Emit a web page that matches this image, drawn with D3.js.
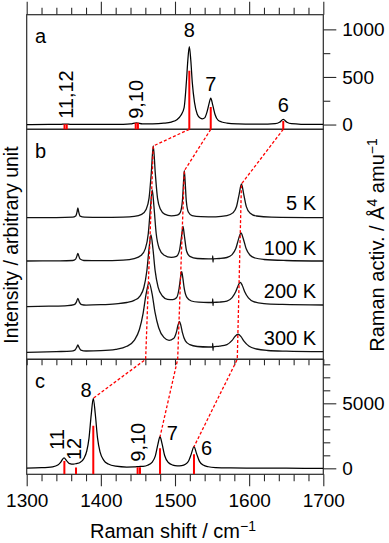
<!DOCTYPE html>
<html><head><meta charset="utf-8">
<script src="https://cdn.jsdelivr.net/npm/d3@7"></script>
<style>
body{margin:0;background:#fff}
text{font-family:"Liberation Sans",Arial,Helvetica,sans-serif;fill:#000}
</style>
</head><body>
<svg id="chart" width="389" height="543" xmlns="http://www.w3.org/2000/svg"></svg>
<script>
// ---------------- data ----------------
const xTickLabels = [1300, 1400, 1500, 1600, 1700];
const aTickLabels = [0, 500, 1000];
const aMinorTicks = [250, 750];
const cTickLabels = [0, 5000];
const cMinorTicks = [1000, 2000, 3000, 4000, 6000, 7000, 8000];

// panel a: calculated Raman activities (sticks) and broadened spectrum
const sticksAPos = [1351, 1354, 1447, 1450, 1519.3, 1548.2, 1646];
const sticksAVal = [4, 4, 18, 18, 564, 185, 38];
const curveA = [[1300,0.3],[1330,0.6],[1345,1.5],[1352.5,5.5],[1360,1.5],[1380,0.9],[1410,1.5],[1430,2.7],[1440,5.8],[1448,18],[1456,7.2],[1470,7.5],[1485,13.8],[1495,26.3],[1503,53.8],[1508,98],[1512.3,179],[1515.3,441],[1517.3,674],[1519.3,819],[1521.3,675],[1523.3,443],[1526.3,232],[1530,108],[1534,68],[1537,60],[1540,70],[1543,128],[1546,222],[1548.2,277],[1551,201],[1554,106],[1558,46],[1563,27],[1570,15.5],[1585,7.2],[1605,4.1],[1625,4.1],[1635,8.6],[1641,23.7],[1646,53],[1651,23.6],[1657,8.4],[1670,2.9],[1700,1.3]];

// panel b: measured spectra (intensity above each trace's baseline, arbitrary unit)
const temps = ["5 K", "100 K", "200 K", "300 K"];
const tempOffsets = [141.6, 98.3, 54.3, 7.3];
const spec5K = [[1300,0],[1340,0.1],[1362,0.5],[1366,1.6],[1368,6.2],[1369,9.8],[1370,6.2],[1372,1.6],[1378,0.5],[1400,0.3],[1430,0.6],[1445,1.3],[1455,3.3],[1461,8.3],[1465,19.5],[1468,44.5],[1470.7,71.7],[1473.4,44.6],[1476.4,19.6],[1480.4,8.4],[1486,3.6],[1495,1.9],[1503,2.5],[1507,5.1],[1510,16.9],[1511.5,35.8],[1512.6,47],[1513.7,35.8],[1515.2,16.9],[1518,5.7],[1523,2.1],[1535,1.1],[1555,0.9],[1570,2],[1578,4.8],[1583,11.2],[1586.5,23.4],[1589.6,33.7],[1592.7,23.4],[1596.2,11.1],[1601,4.8],[1610,1.7],[1630,0.5],[1700,0]];
const spec100K = [[1300,0],[1345,0.1],[1362,0.5],[1366,1.9],[1368,5.6],[1369,7.7],[1370,5.6],[1372,1.9],[1377,0.5],[1400,0.3],[1430,0.9],[1445,2.4],[1454,5.4],[1460,12.4],[1464,27.5],[1467,54.5],[1469.3,71],[1471.6,54.5],[1474.6,27.8],[1478.6,12.8],[1485,6],[1495,3.6],[1502,4.7],[1506,10.3],[1509,25.5],[1510.8,34.5],[1512.6,25.5],[1515.6,10],[1520,4.6],[1530,2.5],[1545,2.2],[1550.6,2.2],[1550.9,5.2],[1551.3,-1],[1551.6,2.2],[1560,2.5],[1570,3.5],[1577,6.4],[1582,12.5],[1586,22.6],[1589,28],[1592,22.5],[1596,12.2],[1601,6],[1608,3],[1620,1.5],[1650,0.5],[1700,0]];
const spec200K = [[1300,-1.7],[1330,-1.2],[1355,-0.6],[1364,0.4],[1367,2.9],[1369,6.7],[1371,2.9],[1374,0.4],[1380,-0.1],[1400,0.3],[1420,1.2],[1435,2.5],[1445,4.6],[1453,9.2],[1458,17.5],[1462,34],[1465,56.3],[1467.6,70],[1470.2,56.5],[1473.2,34.3],[1477.2,17.8],[1483,9],[1490,5.6],[1497,5.3],[1502,7.2],[1505.5,16.5],[1507.5,27.5],[1509,33.3],[1510.5,27.3],[1512.5,16.3],[1516,7.6],[1522,4],[1532,2.8],[1545,2.5],[1550.6,2.6],[1550.9,6.2],[1551.3,-0.5],[1551.6,2.6],[1560,2.9],[1570,3.9],[1577,7.3],[1582,13.4],[1585.5,20],[1588,22.7],[1590.5,20],[1594,13.3],[1599,7.1],[1606,3.4],[1620,1.4],[1645,0.6],[1700,0]];
const spec300K = [[1300,-0.3],[1340,0.4],[1360,0.8],[1365,1.9],[1367.5,4.8],[1369,7.1],[1370.5,4.8],[1373,1.9],[1380,1.0],[1400,1.3],[1420,2.6],[1435,5.7],[1445,11.6],[1452,22.5],[1457,38.7],[1461,57.8],[1465,69.3],[1469,58.6],[1473,39.9],[1478,24.3],[1485,14.6],[1492,11.7],[1498,13.4],[1502,20.2],[1504,26.7],[1506,30.7],[1508,26.3],[1510,19.4],[1514,11.1],[1520,7.3],[1530,5.5],[1545,5.0],[1550.6,5.1],[1550.9,8.5],[1551.3,1.5],[1551.6,5.1],[1560,5.8],[1570,7.4],[1577,11.6],[1581,15.6],[1585,17.9],[1589,15.3],[1593,10.9],[1600,5.7],[1610,3.0],[1625,1.5],[1650,0.8],[1700,0.3]];
const spectra = [spec5K, spec100K, spec200K, spec300K];

// panel c: calculated sticks and broadened spectrum
const sticksCPos = [1350.8, 1366.5, 1389.8, 1449.6, 1452.8, 1479.8, 1525.6];
const sticksCVal = [560, 60, 3277, 80, 80, 1538, 1077];
const curveC = [[1300,24],[1320,47],[1335,116],[1342,250],[1346,483],[1350.3,810],[1354,576],[1358,359],[1363,317],[1367,365],[1372,454],[1377,745],[1381,1333],[1384,2303],[1387,4113],[1389.8,5385],[1392.5,4175],[1395.5,2343],[1399,1239],[1404,608],[1410,327],[1420,163],[1435,99],[1445,106],[1451,134],[1457,153],[1463,236],[1469,459],[1473.5,959],[1477,1863],[1479.8,2430],[1482.5,1894],[1486,984],[1491,445],[1497,248],[1503,194],[1509,213],[1514,314],[1518.5,586],[1522,1111],[1525.6,1663],[1529,1145],[1533,537],[1538,251],[1545,121],[1555,59],[1575,26],[1600,14],[1650,6.5],[1700,4]];

// mode correlations: a-stick -> 5 K peak -> bottom of b -> c peak
const linkA = [1519.3, 1548.2, 1646];
const linkB5K = [[1470.7,71.7],[1512.6,47],[1589.6,33.7]];
const linkBBottom = [1460.4, 1503.6, 1584];
const linkC = [[1389.8,5385],[1479.8,2430],[1525.6,1663]];

// annotation texts
const labelsA = [["8",1519.3,920],["7",1548.2,355],["6",1646,134]];
const labelsARot = [["11,12",1352.6,60],["9,10",1448,60]];
const labelsC = [["8",1380,5508],["7",1496.3,2177],["6",1542.7,1023]];
const labelsCRot = [["11",1341.5,1408],["12",1364,638],["9,10",1450.5,508]];
const tempLabelVals = [149.3, 104.3, 61, 14.3];

// ---------------- drawing ----------------
const svg = d3.select("#chart");
svg.append("rect").attr("width",389).attr("height",543).attr("fill","#fff");
const L = 26.7, R = 323.3;
const aTop = 14.7, aBot = 129.3, bBot = 359.3, cBot = 474.3;
const x = d3.scaleLinear().domain([1300,1700]).range([L,R]);
const yA = d3.scaleLinear().domain([-50,1154]).range([aBot,aTop]);
const yB = d3.scaleLinear().domain([0,230]).range([bBot,aBot]);
const yC = d3.scaleLinear().domain([-460,8385]).range([cBot,bBot]);
const FRAME = "#2a2a2a";
const FS = 19;

const minorX = d3.range(1300,1701,20).filter(v => v % 100 !== 0);

function styleAxis(g){
  g.select(".domain").remove();
  g.selectAll(".tick line").attr("stroke",FRAME).attr("stroke-width",1.1);
  g.selectAll("text").attr("font-size",FS).attr("font-family",'"Liberation Sans",Arial,sans-serif').attr("fill","#000");
}
// top axis of a
svg.append("g").attr("transform",`translate(0,${aTop})`)
  .call(d3.axisTop(x).tickValues(xTickLabels).tickSize(13).tickFormat("")).call(styleAxis);
svg.append("g").attr("transform",`translate(0,${aTop})`)
  .call(d3.axisTop(x).tickValues(minorX).tickSize(7).tickFormat("")).call(styleAxis);
// inward ticks at top of c
svg.append("g").attr("transform",`translate(0,${bBot})`)
  .call(d3.axisBottom(x).tickValues(d3.range(1300,1701,20)).tickSize(6).tickFormat("")).call(styleAxis);
// bottom axis
svg.append("g").attr("transform",`translate(0,${cBot})`)
  .call(d3.axisBottom(x).tickValues(xTickLabels).tickSize(12).tickPadding(7).tickFormat(d3.format("d"))).call(styleAxis);
svg.append("g").attr("transform",`translate(0,${cBot})`)
  .call(d3.axisBottom(x).tickValues(minorX).tickSize(7).tickFormat("")).call(styleAxis);
// right axes
svg.append("g").attr("transform",`translate(${R},0)`)
  .call(d3.axisRight(yA).tickValues(aTickLabels).tickSize(13).tickPadding(6).tickFormat(d3.format("d"))).call(styleAxis);
svg.append("g").attr("transform",`translate(${R},0)`)
  .call(d3.axisRight(yA).tickValues(aMinorTicks).tickSize(7).tickFormat("")).call(styleAxis);
svg.append("g").attr("transform",`translate(${R},0)`)
  .call(d3.axisRight(yC).tickValues(cTickLabels).tickSize(13).tickPadding(6).tickFormat(d3.format("d"))).call(styleAxis);
svg.append("g").attr("transform",`translate(${R},0)`)
  .call(d3.axisRight(yC).tickValues(cMinorTicks).tickSize(7).tickFormat("")).call(styleAxis);

// frames
[[aTop,aBot],[aBot,bBot],[bBot,cBot]].forEach(([t,b]) => {
  svg.append("rect").attr("x",L).attr("y",t).attr("width",R-L).attr("height",b-t)
    .attr("fill","none").attr("stroke",FRAME).attr("stroke-width",1.2);
});

const clipA = svg.append("clipPath").attr("id","clipall");
clipA.append("rect").attr("x",L).attr("y",aTop).attr("width",R-L).attr("height",cBot-aTop);

// curves
const lineGen = (ys, off=0) => d3.line().x(d => x(d[0])).y(d => ys(d[1]+off)).curve(d3.curveMonotoneX);
const plot = svg.append("g").attr("clip-path","url(#clipall)");
plot.append("path").datum(curveA).attr("d",lineGen(yA)).attr("fill","none").attr("stroke","#000").attr("stroke-width",1.25);
plot.append("path").datum(curveC).attr("d",lineGen(yC)).attr("fill","none").attr("stroke","#000").attr("stroke-width",1.25);
spectra.forEach((s,i) => {
  plot.append("path").datum(s).attr("d",lineGen(yB,tempOffsets[i])).attr("fill","none").attr("stroke","#111").attr("stroke-width",1.3);
});

// sticks
sticksAPos.forEach((p,i) => {
  plot.append("line").attr("x1",x(p)).attr("x2",x(p)).attr("y1",yA(-50)).attr("y2",yA(sticksAVal[i]))
    .attr("stroke","#ff0000").attr("stroke-width",2);
});
sticksCPos.forEach((p,i) => {
  plot.append("line").attr("x1",x(p)).attr("x2",x(p)).attr("y1",yC(-460)).attr("y2",yC(sticksCVal[i]))
    .attr("stroke","#ff0000").attr("stroke-width",2);
});

// correlation dashed lines
linkA.forEach((a,i) => {
  const pts = [[x(a), aBot],
               [x(linkB5K[i][0]), yB(linkB5K[i][1]+tempOffsets[0])],
               [x(linkBBottom[i]), bBot],
               [x(linkC[i][0]), yC(linkC[i][1])]];
  svg.append("path").attr("d", d3.line()(pts)).attr("fill","none")
    .attr("stroke","#ff0000").attr("stroke-width",1.3).attr("stroke-dasharray","3,2");
});

// labels
const fontLbl = 20;
svg.append("text").attr("x",35).attr("y",42.7).attr("font-size",fontLbl).text("a");
svg.append("text").attr("x",35).attr("y",158.3).attr("font-size",fontLbl).text("b");
svg.append("text").attr("x",35).attr("y",388.3).attr("font-size",fontLbl).text("c");

labelsA.forEach(([t,p,v]) => svg.append("text").attr("x",x(p)).attr("y",yA(v)).attr("text-anchor","middle").attr("font-size",fontLbl).text(t));
labelsARot.forEach(([t,p,v]) => svg.append("text").attr("transform",`translate(${x(p)},${yA(v)}) rotate(-90)`).attr("dy","0.35em").attr("font-size",fontLbl).text(t));
labelsC.forEach(([t,p,v]) => svg.append("text").attr("x",x(p)).attr("y",yC(v)).attr("text-anchor","middle").attr("font-size",fontLbl).text(t));
labelsCRot.forEach(([t,p,v]) => svg.append("text").attr("transform",`translate(${x(p)},${yC(v)}) rotate(-90)`).attr("dy","0.35em").attr("font-size",fontLbl).text(t));
temps.forEach((t,i) => svg.append("text").attr("x",x(1690.2)).attr("y",yB(tempLabelVals[i])).attr("text-anchor","end").attr("font-size",fontLbl).text(t));

// axis titles
const xt = svg.append("text").attr("x",173).attr("y",538).attr("text-anchor","middle").attr("font-size",20);
xt.append("tspan").text("Raman shift / cm");
xt.append("tspan").attr("dy",-7).attr("font-size",14).text("\u22121");

svg.append("text").attr("transform","translate(17.5,245) rotate(-90)").attr("text-anchor","middle").attr("font-size",19.5)
  .text("Intensity / arbitrary unit");
const rt = svg.append("text").attr("transform","translate(384,245) rotate(-90)").attr("text-anchor","middle").attr("font-size",20);
rt.append("tspan").text("Raman activ. / Å");
rt.append("tspan").attr("dy",-7).attr("font-size",14).text("4");
rt.append("tspan").attr("dy",7).text(" amu");
rt.append("tspan").attr("dy",-7).attr("font-size",14).text("\u22121");
</script>
</body></html>
